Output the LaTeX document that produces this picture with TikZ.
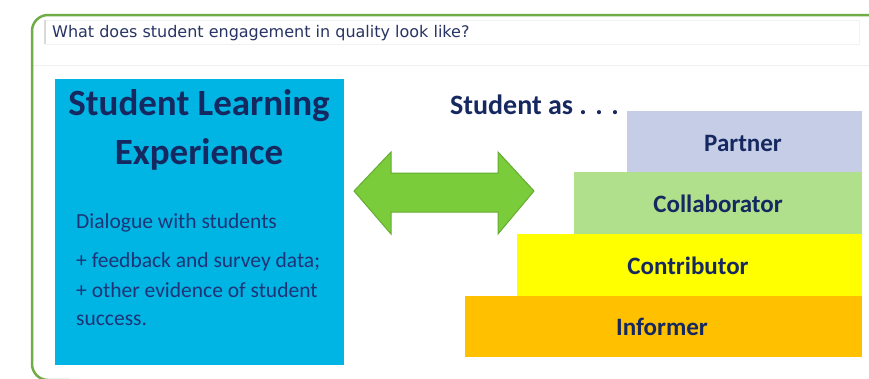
\documentclass[tikz,border=0pt]{standalone}
\usepackage{fontspec}
\setmainfont{Carlito}
\newfontfamily\hdrfont{DejaVu Sans}
\definecolor{frame}{RGB}{112,173,71}
\definecolor{navy}{RGB}{22,40,96}
\definecolor{navytxt}{RGB}{30,52,118}
\definecolor{hdrtxt}{RGB}{40,52,100}
\definecolor{sky}{RGB}{0,180,228}
\definecolor{partner}{RGB}{197,206,230}
\definecolor{collab}{RGB}{176,224,140}
\definecolor{contrib}{RGB}{255,255,0}
\definecolor{inform}{RGB}{255,192,0}
\definecolor{arrowfill}{RGB}{122,204,58}
\definecolor{arrowline}{RGB}{100,172,50}
\tikzset{
  steplabel/.style={anchor=base, inner sep=0pt, font=\fontsize{25}{30}\selectfont\bfseries, text=navy},
  bodytxt/.style={anchor=base west, font=\fontsize{21.5}{26}\selectfont, text=navytxt, inner sep=0pt},
  titletxt/.style={anchor=base, font=\fontsize{37}{42}\selectfont\bfseries, text=navy, inner sep=0pt}
}
\begin{document}
\begin{tikzpicture}[x=1pt,y=-1pt]
\useasboundingbox (0,0) rectangle (869,378);
\fill[white] (0,0) rectangle (869,378);
% faint separator
\draw[black!6, line width=1pt] (33,65) -- (869,65);
% header box
\node[draw=black!5, fill=white, minimum width=814pt, minimum height=24pt, anchor=north west, inner sep=0pt] (hdr) at (45,20) {};
\draw[black!15, line width=1.2pt] (hdr.north west) -- (hdr.south west);
\node[anchor=base west, inner sep=0pt, font=\hdrfont\fontsize{16}{19}\selectfont, text=hdrtxt] (q) at (52,37) {What does student engagement in quality look like?};
% green frame
\begin{scope}
\clip (0,0) rectangle (869,378);
\draw[frame, line width=2.5pt, rounded corners=16pt] (875,15) -- (32,15) -- (32,380) -- (70,380);
\end{scope}
% left box
\node[fill=sky, minimum width=289pt, minimum height=286pt, anchor=north west, inner sep=0pt] (sle) at (55,79) {};
\node[titletxt] (t1) at (199,115) {Student Learning};
\node[titletxt] (t2) at (199,164) {Experience};
\node[bodytxt] (b1) at (76,228) {Dialogue with students};
\node[bodytxt] (b2) at (76,267) {+ feedback and survey data;};
\node[bodytxt] (b3) at (76,297) {+ other evidence of student};
\node[bodytxt] (b4) at (76,325) {success.};
% double arrow
\draw[arrowline, fill=arrowfill, line width=1pt, line join=miter]
  (354,191) -- (391,152) -- (391,173) -- (498,173) -- (498,152) -- (534,191)
  -- (498,234) -- (498,212) -- (391,212) -- (391,234) -- cycle;
% steps
\fill[partner] (627,111) rectangle (862,172);
\fill[collab] (574,172) rectangle (862,234);
\fill[contrib] (517,234) rectangle (862,296);
\fill[inform] (465,296) rectangle (862,357);
\node[steplabel] (p) at (743,151) {Partner};
\node[steplabel] (c) at (718,212) {Collaborator};
\node[steplabel] (ct) at (688,274) {Contributor};
\node[steplabel] (i) at (662,335) {Informer};
\node[anchor=base west, inner sep=0pt, font=\fontsize{28}{32}\selectfont\bfseries, text=navy] (sa) at (450,114) {Student as . . .};
\end{tikzpicture}
\end{document}
